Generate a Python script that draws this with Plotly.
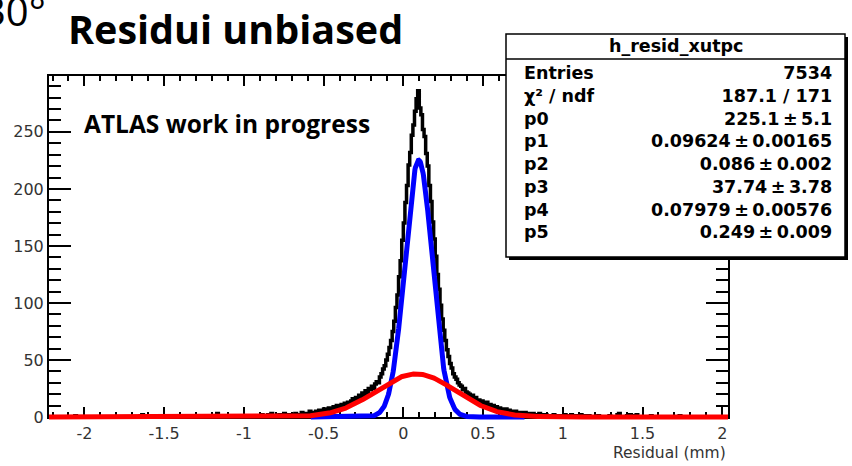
import numpy as np
import plotly.graph_objects as go

# ---- histogram of unbiased residuals (0.01 mm bins) ----
BIN_START = -2.22
BIN_WIDTH = 0.01

# bins -2.22 .. -0.81
counts_left = [
    0, 0, 0, 0, 0, 0, 0, 0, 0, 0, 0, 0, 0, 0, 0, 0, 1, 0, 0, 0,
    0, 0, 0, 0, 0, 0, 0, 0, 0, 0, 0, 0, 0, 0, 0, 0, 0, 0, 0, 0,
    0, 0, 0, 0, 0, 0, 0, 0, 0, 0, 0, 0, 0, 0, 0, 0, 0, 1, 2, 0,
    0, 0, 0, 0, 0, 0, 0, 0, 0, 0, 0, 0, 0, 0, 0, 0, 0, 0, 0, 0,
    0, 1, 0, 0, 0, 0, 0, 0, 0, 0, 0, 0, 0, 0, 0, 0, 0, 0, 0, 0,
    0, 0, 0, 0, 1, 3, 0, 0, 0, 0, 0, 0, 0, 0, 0, 0, 0, 0, 1, 0,
    0, 0, 0, 0, 0, 0, 0, 1, 0, 0, 0, 0, 0, 2, 0, 1, 0, 2, 0, 3,
    1, 0,
]

# bins -0.80 .. 0.99
counts_core = [
    1, 0, 2, 0, 1, 3, 0, 1, 2, 1, 2, 1, 3, 2, 1, 2, 4, 2, 3, 2,
    3, 5, 2, 4, 3, 5, 4, 6, 3, 5, 7, 4, 6, 8, 5, 7, 9, 6, 10, 8,
    9, 11, 8, 12, 10, 13, 11, 14, 16, 13, 17, 15, 19, 17, 21, 19, 23, 21, 25, 24,
    27, 25, 29, 31, 30, 35, 38, 42, 45, 50, 55, 61, 67, 75, 84, 96, 107, 123, 137, 155,
    170, 188, 203, 221, 232, 247, 256, 268, 279, 286, 271, 265, 252, 246, 231, 220, 203, 189, 171, 156,
    141, 125, 112, 98, 86, 76, 67, 59, 53, 47, 43, 38, 35, 33, 30, 28, 27, 24, 25, 22,
    21, 20, 18, 19, 16, 17, 14, 15, 13, 14, 12, 11, 13, 10, 11, 9, 10, 8, 9, 7,
    8, 6, 7, 5, 7, 5, 6, 4, 5, 3, 5, 4, 3, 4, 2, 3, 4, 2, 3, 2,
    1, 3, 2, 1, 2, 3, 1, 2, 0, 2, 1, 0, 1, 0, 2, 0, 1, 0, 0, 1,
]

# bins 1.00 .. 2.03
counts_right = [
    0, 2, 1, 0, 1, 2, 0, 0, 1, 0, 1, 2, 0, 1, 0, 0, 1, 0, 0, 0,
    0, 0, 1, 0, 0, 0, 0, 0, 0, 1, 0, 0, 0, 0, 2, 3, 0, 0, 0, 0,
    1, 0, 2, 0, 0, 1, 2, 0, 0, 0, 0, 0, 0, 0, 0, 1, 0, 0, 0, 0,
    0, 0, 0, 0, 0, 0, 0, 0, 0, 0, 0, 0, 0, 1, 0, 0, 0, 0, 0, 0,
    0, 0, 0, 0, 0, 0, 0, 0, 0, 0, 0, 0, 0, 0, 0, 0, 0, 0, 0, 0,
    0, 0, 0, 0,
]

counts = counts_left + counts_core + counts_right

# ---- double-Gaussian fit result ----
hist_name = "h_resid_xutpc"
entries = 7534
chi2 = 187.1
ndf = 171
param_names = ["p0", "p1", "p2", "p3", "p4", "p5"]
param_values = [225.1, 0.09624, 0.086, 37.74, 0.07979, 0.249]
param_errors = [5.1, 0.00165, 0.002, 3.78, 0.00576, 0.009]

x_tick_vals = [-2, -1.5, -1, -0.5, 0, 0.5, 1, 1.5, 2]
x_tick_text = ["-2", "-1.5", "-1", "-0.5", "0", "0.5", "1", "1.5", "2"]
y_tick_vals = [0, 50, 100, 150, 200, 250]

# ---- geometry ----
W, H = 852, 466
ML, MR, MT, MB = 49, 124, 76, 45
PLOT_H = H - MT - MB
X_RANGE = [-2.222, 2.036]
Y_MAX = 299
BELOW = 4  # px of room under the frame so thick curves at zero are not clipped
y_per_px = Y_MAX / (PLOT_H - BELOW)

NARROW_RANGE = [-0.58, 0.76]


def gauss(x, amp, mean, sigma):
    return amp * np.exp(-0.5 * ((x - mean) / sigma) ** 2)


def px(xp):
    return (xp - ML) / (W - ML - MR)


def py(yp):
    return (H - MB - yp) / PLOT_H


edges = BIN_START + BIN_WIDTH * np.arange(len(counts) + 1)
step_y = counts + [counts[-1]]

p0, p1, p2, p3, p4, p5 = param_values
xb = np.linspace(NARROW_RANGE[0], NARROW_RANGE[1], 500)
xr = np.linspace(X_RANGE[0], X_RANGE[1], 1200)

fig = go.Figure()
# keeps the framed subplot alive
fig.add_trace(go.Scatter(x=[], y=[], xaxis="x", yaxis="y", showlegend=False))
fig.add_trace(go.Scatter(
    x=edges, y=step_y, mode="lines", line=dict(color="black", width=3.5, shape="hv"),
    xaxis="x2", yaxis="y2", showlegend=False, hoverinfo="skip"))
fig.add_trace(go.Scatter(
    x=xb, y=gauss(xb, p0, p1, p2), mode="lines", line=dict(color="#0000ff", width=5),
    xaxis="x2", yaxis="y2", showlegend=False, hoverinfo="skip"))
fig.add_trace(go.Scatter(
    x=xr, y=gauss(xr, p3, p4, p5), mode="lines", line=dict(color="#ff0000", width=5),
    xaxis="x2", yaxis="y2", showlegend=False, hoverinfo="skip"))

axis_font = dict(family="DejaVu Sans", size=16, color="#333333")

fig.update_layout(
    width=W, height=H,
    margin=dict(l=ML, r=MR, t=MT, b=MB, pad=0),
    paper_bgcolor="white", plot_bgcolor="rgba(0,0,0,0)",
    xaxis=dict(
        domain=[0, 1], anchor="y", range=X_RANGE,
        showgrid=False, zeroline=False,
        showline=True, linecolor="black", linewidth=2, mirror="ticks",
        ticks="inside", ticklen=10, tickwidth=1.5, tickcolor="black",
        tickvals=x_tick_vals, ticktext=x_tick_text, tickfont=axis_font,
        ticklabelstandoff=1,
        minor=dict(dtick=0.1, tick0=0, ticks="inside", ticklen=5, tickwidth=1.5,
                   tickcolor="black", showgrid=False),
    ),
    yaxis=dict(
        domain=[BELOW / PLOT_H, 1], anchor="x", range=[0, Y_MAX],
        showgrid=False, zeroline=False,
        showline=True, linecolor="black", linewidth=2, mirror="ticks",
        ticks="inside", ticklen=22, tickwidth=1.5, tickcolor="black",
        tickvals=y_tick_vals, tickfont=axis_font,
        minor=dict(dtick=10, tick0=0, ticks="inside", ticklen=12, tickwidth=1.5,
                   tickcolor="black", showgrid=False),
    ),
    xaxis2=dict(domain=[0, 1], anchor="y2", range=X_RANGE, visible=False),
    yaxis2=dict(domain=[0, 1], anchor="x2", range=[-BELOW * y_per_px, Y_MAX], visible=False),
)

# ---- statistics box ----
box_l, box_t, box_r, box_b = 506, 34, 845, 257
shadow = 3
fig.add_shape(type="rect", xref="paper", yref="paper", layer="above",
              x0=px(box_l + shadow), x1=px(box_r + shadow),
              y0=py(box_b + shadow), y1=py(box_t + shadow),
              fillcolor="black", line=dict(width=0))
fig.add_shape(type="rect", xref="paper", yref="paper", layer="above",
              x0=px(box_l), x1=px(box_r), y0=py(box_b), y1=py(box_t),
              fillcolor="white", line=dict(color="black", width=1.5))
fig.add_shape(type="line", xref="paper", yref="paper", layer="above",
              x0=px(box_l), x1=px(box_r), y0=py(59), y1=py(59),
              line=dict(color="black", width=1.5))

stat_font = dict(family="DejaVu Sans", size=17.5, color="black", weight="bold")

fig.add_annotation(x=px(676), y=py(46), xref="paper", yref="paper",
                   text=hist_name, showarrow=False, font=stat_font,
                   xanchor="center", yanchor="middle")

row_labels = ["Entries", "\u03c7\u00b2 / ndf"] + param_names
row_values = [str(entries), f"{chi2} / {ndf}"] + [
    f"{v}\u2009\u00b1\u2009{e}" for v, e in zip(param_values, param_errors)]
rows_mid = 152

fig.add_annotation(x=px(522), y=py(rows_mid), xref="paper", yref="paper",
                   text="<br>".join(row_labels), showarrow=False, font=stat_font,
                   xanchor="left", yanchor="middle", align="left")
fig.add_annotation(x=px(834), y=py(rows_mid), xref="paper", yref="paper",
                   text="<br>".join(row_values), showarrow=False, font=stat_font,
                   xanchor="right", yanchor="middle", align="right")

# ---- texts around the frame ----
fig.add_annotation(x=px(728), y=py(453), xref="paper", yref="paper",
                   text="Residual (mm)", showarrow=False,
                   font=dict(family="DejaVu Sans", size=15.5, color="#333333"),
                   xanchor="right", yanchor="middle")
fig.add_annotation(x=px(235), y=py(29), xref="paper", yref="paper",
                   text="Residui unbiased", showarrow=False,
                   font=dict(family="Open Sans", size=39.5, color="black", weight="bold"),
                   xanchor="center", yanchor="middle")
fig.add_annotation(x=px(-19), y=py(10), xref="paper", yref="paper",
                   text="30\u00b0", showarrow=False,
                   font=dict(family="Open Sans", size=40, color="black"),
                   xanchor="left", yanchor="middle")
fig.add_annotation(x=px(82), y=py(123), xref="paper", yref="paper",
                   text="ATLAS work in progress", showarrow=False,
                   font=dict(family="Open Sans", size=24.5, color="black", weight="bold"),
                   xanchor="left", yanchor="middle")

fig.write_html("out.html")
